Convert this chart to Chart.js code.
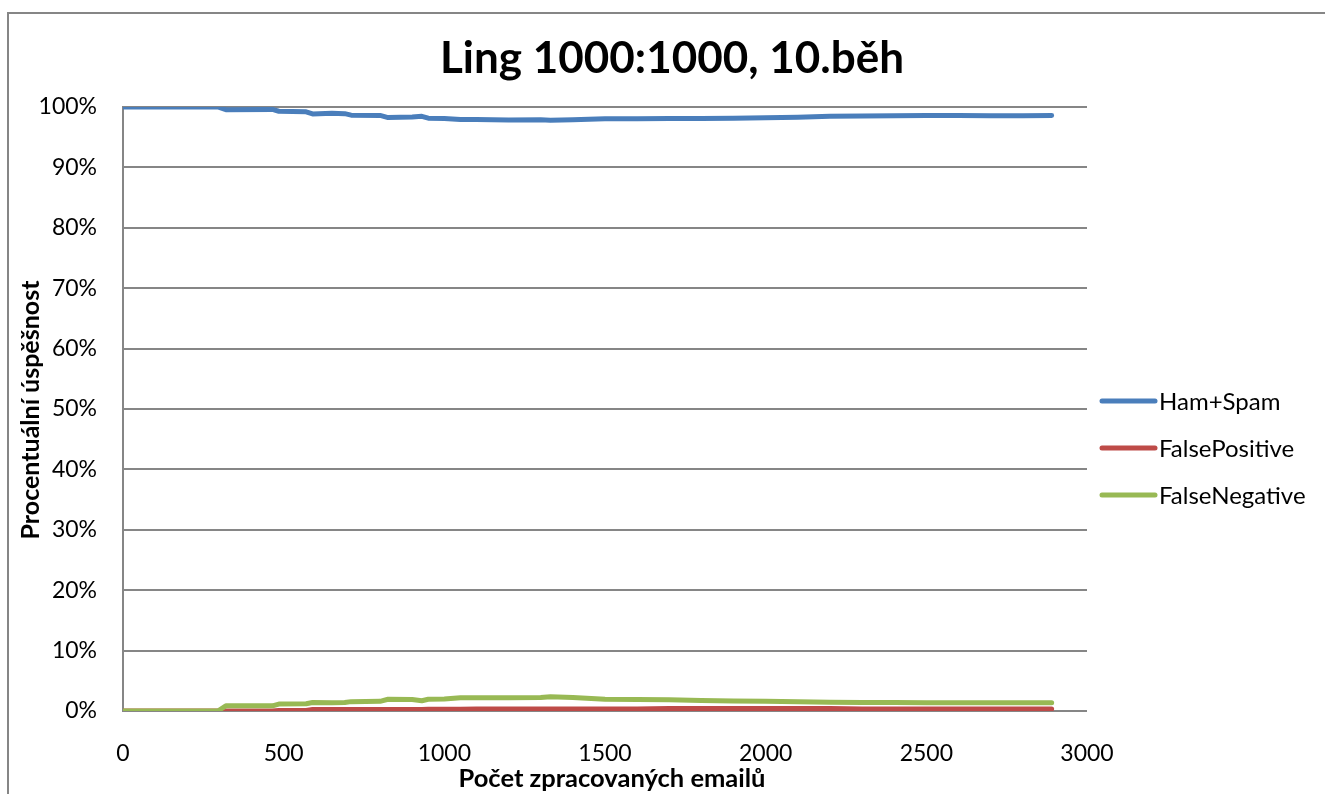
<!DOCTYPE html>
<html>
<head>
<meta charset="utf-8">
<title>Ling 1000:1000, 10.běh</title>
<script src="https://cdn.jsdelivr.net/npm/chart.js@4/dist/chart.umd.min.js"></script>
<style>
  html, body { margin: 0; padding: 0; background: #fff; overflow: hidden; }
  canvas { display: block; }
</style>
</head>
<body>
<canvas id="chart" width="1325" height="794"></canvas>
<script>
// Number of processed e-mails at each recorded point
const emails = [0, 295, 320, 465, 485, 570, 590, 650, 690, 710, 800, 825, 900, 930, 950, 1000, 1050, 1100, 1200, 1300, 1330, 1400, 1500, 1600, 1700, 1800, 1900, 2000, 2100, 2200, 2300, 2400, 2500, 2600, 2700, 2800, 2890];

// Cumulative success rate, in percent
const hamSpam = [100, 100, 99.55, 99.6, 99.3, 99.2, 98.85, 98.95, 98.9, 98.65, 98.6, 98.25, 98.35, 98.45, 98.15, 98.1, 97.95, 97.95, 97.85, 97.9, 97.8, 97.9, 98.05, 98.05, 98.1, 98.1, 98.15, 98.2, 98.3, 98.45, 98.5, 98.55, 98.6, 98.6, 98.55, 98.55, 98.6];
const falsePositive = [0, 0, 0, 0, 0.1, 0.1, 0.25, 0.25, 0.25, 0.25, 0.25, 0.25, 0.25, 0.25, 0.3, 0.3, 0.3, 0.35, 0.35, 0.35, 0.35, 0.35, 0.35, 0.35, 0.4, 0.4, 0.4, 0.4, 0.4, 0.4, 0.35, 0.35, 0.35, 0.35, 0.35, 0.35, 0.35];
const falseNegative = [0, 0, 0.85, 0.85, 1.15, 1.2, 1.4, 1.35, 1.4, 1.55, 1.6, 1.95, 1.9, 1.7, 1.95, 2.0, 2.2, 2.2, 2.2, 2.25, 2.35, 2.25, 1.95, 1.9, 1.85, 1.75, 1.65, 1.6, 1.55, 1.45, 1.4, 1.4, 1.35, 1.35, 1.35, 1.35, 1.35];

const seriesNames = ['Ham+Spam', 'FalsePositive', 'FalseNegative'];
const seriesColors = ['#4a7ebb', '#be4b48', '#98b954'];

const xTicks = [0, 500, 1000, 1500, 2000, 2500, 3000];
const yTicks = [0, 10, 20, 30, 40, 50, 60, 70, 80, 90, 100];

const chartTitle = 'Ling 1000:1000, 10.běh';
const xTitle = 'Počet zpracovaných emailů';
const yTitle = 'Procentuální úspěšnost';

const FONT = 'Lato, "Open Sans", sans-serif';
const GRID = '#868686';

function pairs(values) {
  return emails.map((x, i) => ({ x: x, y: values[i] }));
}

const seriesValues = [hamSpam, falsePositive, falseNegative];

const datasets = seriesValues.map((vals, i) => ({
  label: seriesNames[i],
  data: pairs(vals),
  borderColor: seriesColors[i],
  backgroundColor: seriesColors[i],
  borderWidth: 5,
  borderCapStyle: 'round',
  borderJoinStyle: 'round',
  pointRadius: 0,
  tension: 0,
  fill: false,
  // later series are painted over earlier ones
  order: seriesNames.length - i
}));

// Frame, title, axis titles and the legend on the right
const decorations = {
  id: 'decorations',
  beforeDraw(chart) {
    const ctx = chart.ctx;
    ctx.save();
    ctx.fillStyle = '#fff';
    ctx.fillRect(0, 0, chart.width, chart.height);
    ctx.strokeStyle = GRID;
    ctx.lineWidth = 2;
    ctx.strokeRect(8, 13, chart.width + 20, chart.height + 20);
    ctx.restore();
  },
  afterDraw(chart) {
    const ctx = chart.ctx;
    ctx.save();
    ctx.fillStyle = '#000';
    ctx.textAlign = 'center';
    ctx.textBaseline = 'alphabetic';

    ctx.font = 'bold 44px ' + FONT;
    ctx.fillText(chartTitle, 672, 73);

    ctx.font = 'bold 25.5px ' + FONT;
    ctx.fillText(xTitle, 612, 787);

    ctx.font = 'bold 25px ' + FONT;
    ctx.save();
    ctx.translate(39, 410);
    ctx.rotate(-Math.PI / 2);
    ctx.fillText(yTitle, 0, 0);
    ctx.restore();

    // legend
    ctx.textAlign = 'left';
    ctx.textBaseline = 'middle';
    ctx.font = '24px ' + FONT;
    ctx.lineCap = 'round';
    chart.data.datasets.forEach((ds, i) => {
      const y = 401 + i * 47;
      ctx.strokeStyle = ds.borderColor;
      ctx.lineWidth = 5;
      ctx.beginPath();
      ctx.moveTo(1102, y);
      ctx.lineTo(1155, y);
      ctx.stroke();
      ctx.fillText(ds.label, 1159, y + 1);
    });
    ctx.restore();
  }
};

new Chart(document.getElementById('chart'), {
  type: 'line',
  data: { datasets: datasets },
  plugins: [decorations],
  options: {
    responsive: false,
    animation: false,
    layout: { padding: { top: 107, right: 238, bottom: 0, left: 0 } },
    plugins: {
      legend: { display: false },
      title: { display: false },
      tooltip: { enabled: false }
    },
    scales: {
      x: {
        type: 'linear',
        min: xTicks[0],
        max: xTicks[xTicks.length - 1],
        afterBuildTicks(scale) { scale.ticks = xTicks.map(v => ({ value: v })); },
        afterFit(scale) { scale.height = 83; },
        grid: { display: false, drawTicks: false },
        border: { display: false },
        ticks: {
          color: '#000',
          font: { family: FONT, size: 23 },
          padding: 29,
          maxRotation: 0,
          callback: v => String(v)
        }
      },
      y: {
        min: yTicks[0],
        max: yTicks[yTicks.length - 1],
        afterBuildTicks(scale) { scale.ticks = yTicks.map(v => ({ value: v })); },
        afterFit(scale) { scale.width = 123; },
        grid: { color: GRID, lineWidth: 2, drawTicks: false },
        border: { display: true, color: GRID, width: 2 },
        ticks: {
          color: '#000',
          font: { family: FONT, size: 23 },
          padding: 26,
          callback: v => v + '%'
        }
      }
    }
  }
});
</script>
</body>
</html>
